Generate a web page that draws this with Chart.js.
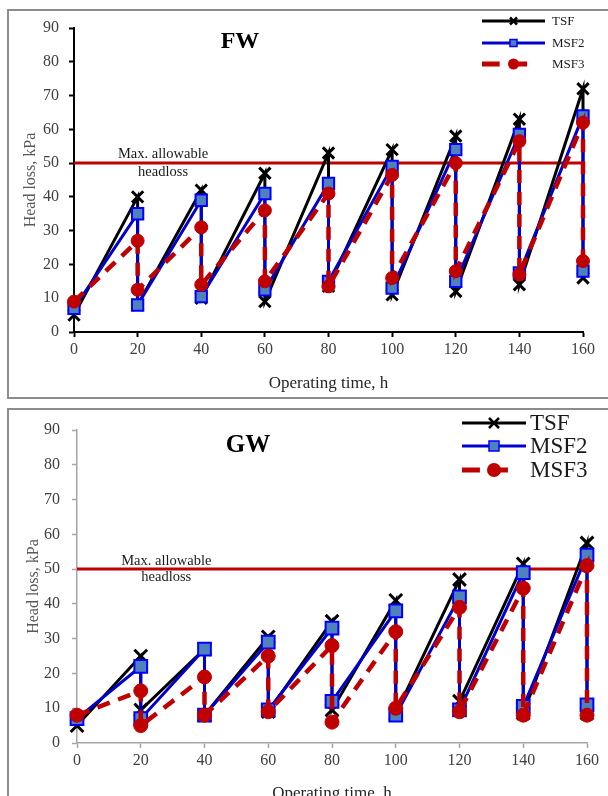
<!DOCTYPE html>
<html>
<head>
<meta charset="utf-8">
<script src="https://cdn.jsdelivr.net/npm/chart.js@4.4.0/dist/chart.umd.min.js"></script>
<style>
body { margin: 0; width: 608px; height: 796px; overflow: hidden; background: #fff; position: relative; }
canvas { position: absolute; left: 0; }
.box { position: absolute; border: 2px solid #8c8c8c; pointer-events: none; }
</style>
</head>
<body>
<canvas id="fw" width="608" height="400" style="top:0"></canvas>
<canvas id="gw" width="608" height="396" style="top:400px"></canvas>
<div class="box" style="left:7px;top:9px;width:640px;height:386px"></div>
<div class="box" style="left:7px;top:408px;width:640px;height:420px"></div>
<script>
// operating time, h (each filter wash gives a drop at the same time)
const timeH = [0, 20, 20, 40, 40, 60, 60, 80, 80, 100, 100, 120, 120, 140, 140, 160, 160];
const xTicks = [0, 20, 40, 60, 80, 100, 120, 140, 160];
const yTicks = [0, 10, 20, 30, 40, 50, 60, 70, 80, 90];
const seriesNames = ['TSF', 'MSF2', 'MSF3'];
const maxAllowable = 50;

// FW head loss, kPa
const fwTSF  = [5, 40, 8, 42, 10, 47, 9, 53, 13.5, 54, 11, 58, 12, 63, 14, 72, 16];
const fwMSF2 = [7, 35, 8, 39, 10.5, 41, 12.5, 44, 15, 49, 13, 54, 15, 58.5, 17.5, 64, 18];
const fwMSF3 = [9, 27, 12.5, 31, 14, 36, 15, 41, 13.5, 46.5, 16, 50, 18, 56.5, 17, 62, 21];

// GW head loss, kPa
const gwTSF  = [5, 25, 9.5, 27, 8, 30.5, 9, 35, 9.5, 41, 8.5, 47, 12, 51.5, 8.5, 57.5, 8.5];
const gwMSF2 = [7, 22, 7, 27, 8, 29, 9.5, 33, 12, 38, 8, 42, 9.5, 49, 10.5, 54, 11];
const gwMSF3 = [8, 15, 5, 19, 8, 25, 9, 28, 6, 32, 10, 39, 9, 44.5, 8, 51, 8];

const serif = "'Liberation Serif', 'Times New Roman', serif";

function pts(vals) {
    return timeH.map((x, i) => ({ x: x, y: vals[i] }));
}

// marker drawing for the hand made legend
function marker(ctx, kind, x, y, s) {
    ctx.save();
    ctx.setLineDash([]);
    if (kind === 'x') {
        ctx.strokeStyle = '#000';
        ctx.lineWidth = 2.5;
        ctx.beginPath();
        ctx.moveTo(x - s, y - s); ctx.lineTo(x + s, y + s);
        ctx.moveTo(x + s, y - s); ctx.lineTo(x - s, y + s);
        ctx.stroke();
    } else if (kind === 'sq') {
        ctx.fillStyle = '#4f81bd';
        ctx.strokeStyle = '#0000ff';
        ctx.lineWidth = 1.5;
        ctx.fillRect(x - s, y - s, 2 * s, 2 * s);
        ctx.strokeRect(x - s, y - s, 2 * s, 2 * s);
    } else {
        ctx.fillStyle = '#c00000';
        ctx.beginPath();
        ctx.arc(x, y, s, 0, Math.PI * 2);
        ctx.fill();
    }
    ctx.restore();
}

const decor = {
    id: 'decor',
    afterDraw(chart, args, o) {
        const ctx = chart.ctx;
        const xs = chart.scales.x, ys = chart.scales.y;
        ctx.save();
        ctx.textAlign = 'center';
        ctx.textBaseline = 'middle';
        ctx.fillStyle = '#000';
        ctx.font = `bold ${o.titleSize}px ${serif}`;
        ctx.fillText(o.title, o.titleX, o.titleY);

        // note over the limit line
        ctx.font = `${o.noteSize}px ${serif}`;
        ctx.fillStyle = '#1a1a1a';
        const nx = xs.getPixelForValue(28);
        const ny = ys.getPixelForValue(maxAllowable);
        ctx.fillText('Max. allowable', nx, ny - o.noteGap);
        ctx.fillText('headloss', nx, ny + o.noteGap);

        // legend
        const L = o.leg;
        const mid = (L.x0 + L.x1) / 2;
        ctx.textAlign = 'left';
        ctx.font = `${L.size}px ${serif}`;
        seriesNames.forEach((name, i) => {
            const y = L.rows[i];
            ctx.lineCap = 'butt';
            if (i === 0) {
                ctx.strokeStyle = '#000'; ctx.lineWidth = 3;
                ctx.beginPath(); ctx.moveTo(L.x0, y); ctx.lineTo(L.x1, y); ctx.stroke();
                marker(ctx, 'x', mid, y, L.xs);
            } else if (i === 1) {
                ctx.strokeStyle = '#0000d0'; ctx.lineWidth = 3;
                ctx.beginPath(); ctx.moveTo(L.x0, y); ctx.lineTo(L.x1, y); ctx.stroke();
                marker(ctx, 'sq', mid, y, L.sq);
            } else {
                const w = (L.x1 - L.x0) * 0.28;
                ctx.strokeStyle = '#c00000'; ctx.lineWidth = 5;
                ctx.beginPath();
                ctx.moveTo(L.x0, y); ctx.lineTo(L.x0 + w, y);
                ctx.moveTo(mid - 4, y); ctx.lineTo(mid - 4 + w, y);
                ctx.stroke();
                marker(ctx, 'o', mid, y, L.dot);
            }
            ctx.fillStyle = '#1a1a1a';
            ctx.fillText(name, L.lx, y + 1);
        });
        ctx.restore();
    }
};

function makeChart(id, vals, st) {
    const axisColor = st.axisColor;
    return new Chart(document.getElementById(id), {
        type: 'line',
        data: {
            datasets: [
                {
                    label: 'TSF', data: pts(vals[0]), order: 3, clip: false,
                    borderColor: '#000', borderWidth: 3,
                    pointStyle: 'crossRot', pointRadius: st.xr, pointBorderWidth: 3,
                    pointBorderColor: '#000', pointBackgroundColor: '#000'
                },
                {
                    label: 'MSF2', data: pts(vals[1]), order: 2, clip: false,
                    borderColor: '#0000d0', borderWidth: 3,
                    pointStyle: 'rect', pointRadius: st.sr, pointBorderWidth: 2,
                    pointBorderColor: '#0000ff', pointBackgroundColor: '#4f81bd'
                },
                {
                    label: 'MSF3', data: pts(vals[2]), order: 1, clip: false,
                    borderColor: '#c00000', borderWidth: 4.5, borderDash: [13, 9],
                    pointStyle: 'circle', pointRadius: st.cr, pointBorderWidth: 1,
                    pointBorderColor: '#c00000', pointBackgroundColor: '#c00000'
                },
                {
                    label: 'limit', data: [{ x: 0, y: maxAllowable }, { x: 160, y: maxAllowable }], order: 9,
                    borderColor: '#c00000', borderWidth: 3, pointRadius: 0
                }
            ]
        },
        options: {
            responsive: false,
            animation: false,
            devicePixelRatio: 1,
            layout: { padding: st.pad },
            elements: { line: { tension: 0 } },
            plugins: {
                legend: { display: false },
                tooltip: { enabled: false },
                decor: st.decor
            },
            scales: {
                x: {
                    type: 'linear', min: 0, max: 160,
                    afterFit: s => { s.height = st.xh; },
                    afterBuildTicks: s => { s.ticks = xTicks.map(v => ({ value: v })); },
                    border: { display: true, color: axisColor, width: st.axisW },
                    grid: { drawOnChartArea: false, drawTicks: true, tickLength: 5, tickColor: axisColor, tickWidth: st.axisW },
                    ticks: { padding: 3, color: '#404040', font: { family: serif, size: 16 }, maxRotation: 0 },
                    title: { display: true, text: 'Operating time, h', color: '#262626',
                             font: { family: serif, size: 17 }, padding: { top: 0, bottom: st.xtPad } }
                },
                y: {
                    min: 0, max: 90,
                    afterFit: s => { s.width = st.yw; },
                    afterBuildTicks: s => { s.ticks = yTicks.map(v => ({ value: v })); },
                    border: { display: true, color: axisColor, width: st.axisW },
                    grid: { drawOnChartArea: false, drawTicks: true, tickLength: 5, tickColor: axisColor, tickWidth: st.axisW },
                    ticks: { padding: st.ytPad, color: '#404040', font: { family: serif, size: 16 } },
                    title: { display: true, text: 'Head loss, kPa', color: '#595959',
                             font: { family: serif, size: 16 }, padding: { top: st.ytitle, bottom: 0 } }
                }
            }
        },
        plugins: [decor]
    });
}

makeChart('fw', [fwTSF, fwMSF2, fwMSF3], {
    axisColor: '#000', axisW: 2,
    pad: { left: 0, top: 28, right: 25, bottom: 0 },
    xh: 68, yw: 74, xtPad: 6, ytPad: 10, ytitle: 21,
    xr: 8, sr: 8, cr: 6.5,
    decor: {
        title: 'FW', titleSize: 24, titleX: 240, titleY: 42,
        noteSize: 14.5, noteGap: 9,
        leg: { x0: 482, x1: 545, rows: [21, 43, 64], lx: 552, size: 13, xs: 3.5, sq: 3.5, dot: 5.5 }
    }
});

makeChart('gw', [gwTSF, gwMSF2, gwMSF3], {
    axisColor: '#a6a6a6', axisW: 1.5,
    pad: { left: 0, top: 30, right: 21, bottom: 0 },
    xh: 53, yw: 77, xtPad: -8, ytPad: 12, ytitle: 24,
    xr: 9, sr: 9, cr: 7,
    decor: {
        title: 'GW', titleSize: 25, titleX: 248, titleY: 46,
        noteSize: 14.5, noteGap: 8,
        leg: { x0: 462, x1: 526, rows: [23, 46, 70], lx: 530, size: 23, xs: 5, sq: 5, dot: 7 }
    }
});
</script>
</body>
</html>
